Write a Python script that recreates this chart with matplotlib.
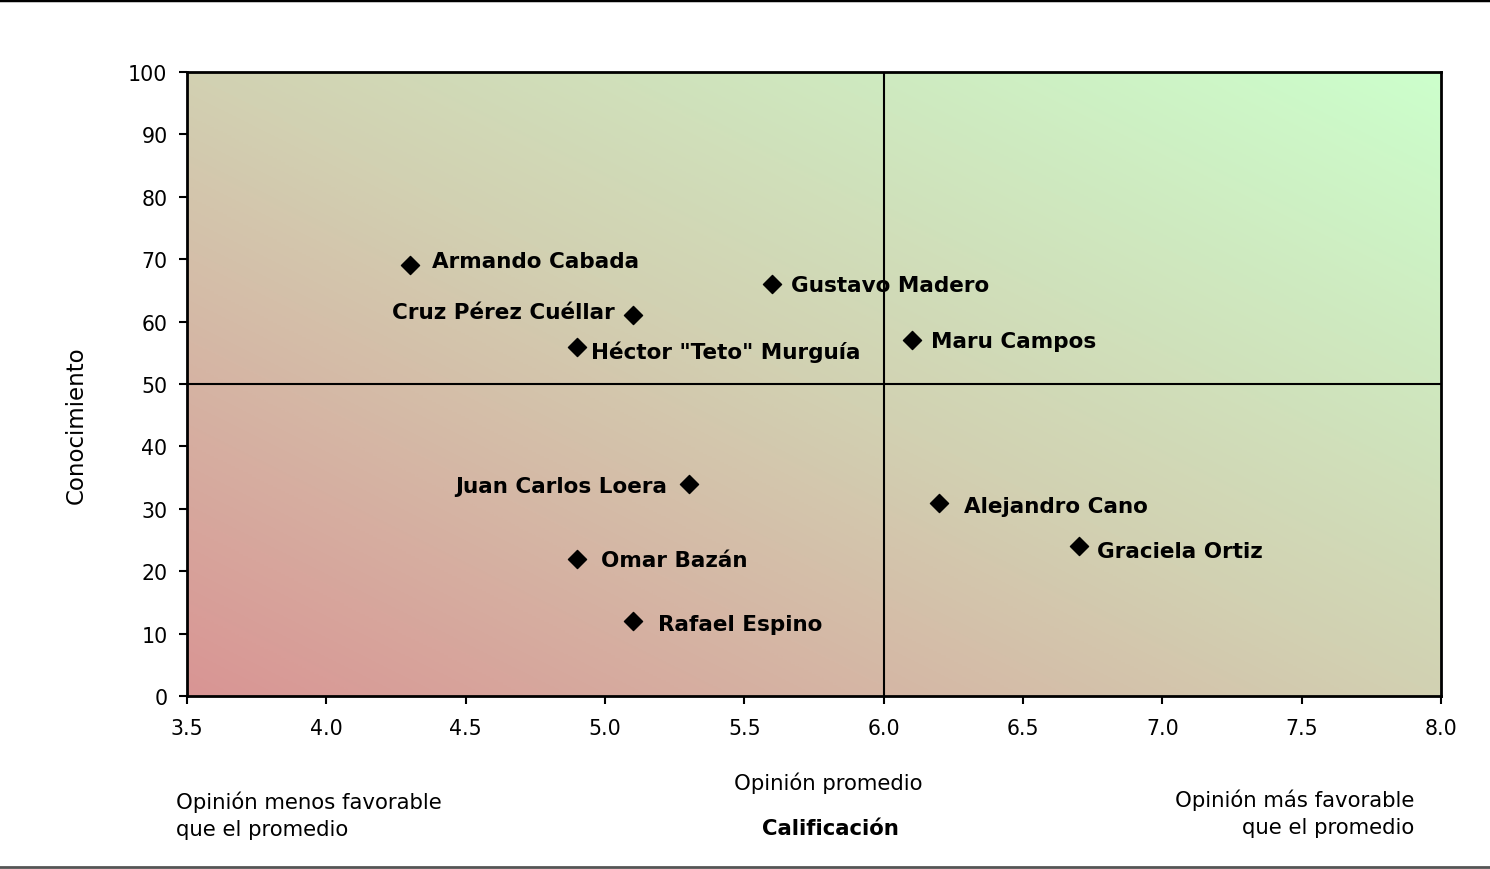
import numpy as np
import matplotlib
matplotlib.use("Agg")
import matplotlib.pyplot as plt
from matplotlib.colors import LinearSegmentedColormap
from matplotlib.lines import Line2D

plt.rcParams['font.family'] = ['DejaVu Sans']

names = ["Armando Cabada", "Gustavo Madero", "Cruz Pérez Cuéllar", "Héctor \"Teto\" Murguía",
         "Maru Campos", "Juan Carlos Loera", "Alejandro Cano", "Graciela Ortiz",
         "Omar Bazán", "Rafael Espino"]
calificacion = [4.3, 5.6, 5.1, 4.9, 6.1, 5.3, 6.2, 6.7, 4.9, 5.1]
conocimiento = [69, 66, 61, 56, 57, 34, 31, 24, 22, 12]

# label placement (pixel offsets from the marker), style only
label_dx = [22, 19, -18, 14, 19, -21, 25, 18, 24, 25]
label_dy = [6, 1, 5, -3, 1, 0, -1, -3, 1, -1]

x_ticks = [3.5, 4.0, 4.5, 5.0, 5.5, 6.0, 6.5, 7.0, 7.5, 8.0]
y_ticks = [0, 10, 20, 30, 40, 50, 60, 70, 80, 90, 100]
promedio_x = 6.0
promedio_y = 50

fig = plt.figure(figsize=(14.9, 8.7), dpi=100)
ax = fig.add_axes([187/1490, 1 - 697/870, (1441-187)/1490, (697-73)/870])

# gradient background (bottom-left red -> top-right green)
n = 300
gx, gy = np.meshgrid(np.linspace(0, 1, n), np.linspace(0, 1, n))
g = (gx + gy) / 2
cmap = LinearSegmentedColormap.from_list(
    "bg", [(0.0, "#D99594"), (0.5, "#D2D1B2"), (1.0, "#CCFFCC")])
ax.imshow(g, cmap=cmap, origin="lower", extent=[3.5, 8.0, 0, 100], aspect="auto",
          interpolation="bilinear", zorder=0)

ax.axvline(promedio_x, color="black", lw=1.5, zorder=1)
ax.axhline(promedio_y, color="black", lw=1.5, zorder=1)

ax.scatter(calificacion, conocimiento, marker="D", s=85, color="black", zorder=3)
for nm, xv, yv, dx, dy in zip(names, calificacion, conocimiento, label_dx, label_dy):
    ax.annotate(nm, (xv, yv), xytext=(dx * 0.72, dy * 0.72), textcoords="offset points",
                ha="left" if dx > 0 else "right", va="center_baseline",
                fontsize=15.5, fontweight="bold", zorder=4)

ax.set_xlim(3.5, 8.0)
ax.set_ylim(0, 100)
ax.set_xticks(x_ticks)
ax.set_xticklabels([f"{v:.1f}" for v in x_ticks])
ax.set_yticks(y_ticks)
ax.tick_params(axis="both", direction="out", length=6, width=1.5, labelsize=14.8)
ax.tick_params(axis="x", pad=10)
ax.tick_params(axis="y", pad=8)
for sp in ax.spines.values():
    sp.set_linewidth(2)

fig.text(76/1490, 1 - 425/870, "Conocimiento", rotation=90, ha="center", va="center", fontsize=16.5)

fig.text(176/1490, 1 - 816/870, "Opinión menos favorable\nque el promedio", ha="left", va="center",
         fontsize=15.3, linespacing=1.43)
fig.text(828/1490, 1 - 783/870, "Opinión promedio", ha="center", va="center", fontsize=15.3)
fig.text(830/1490, 1 - 829/870, "Calificación", ha="center", va="center", fontsize=15.3, fontweight="bold")
fig.text(1414/1490, 1 - 814/870, "Opinión más favorable\nque el promedio", ha="right", va="center",
         fontsize=15.3, linespacing=1.43)

fig.add_artist(Line2D([0, 1], [1 - 1/870, 1 - 1/870], color="black", lw=2.5, transform=fig.transFigure))
fig.add_artist(Line2D([0, 1], [1 - 868/870, 1 - 868/870], color="#555555", lw=2, transform=fig.transFigure))

fig.savefig("out.png", dpi=100)
